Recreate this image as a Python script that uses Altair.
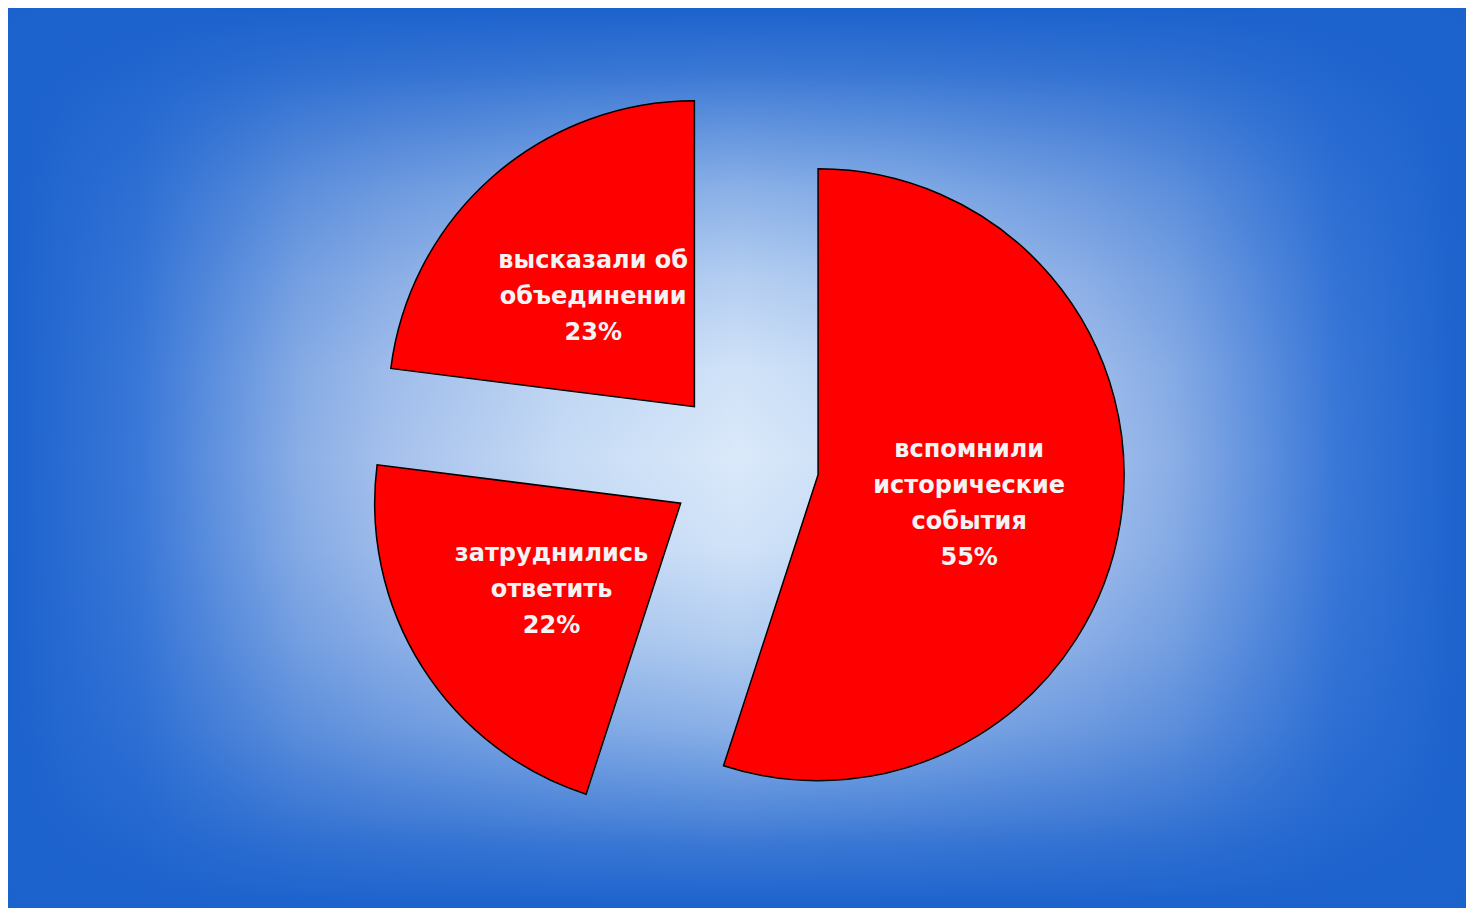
import altair as alt
import pandas as pd

# ---- data ----
categories = ["вспомнили\nисторические\nсобытия", "затруднились\nответить", "высказали об\nобъединении"]
shares = [55, 22, 23]
order = [0, 1, 2]

# ---- layout ----
W, H = 1458, 900
CX, CY = 736, 455   # pie centre (px)
R = 306             # pie radius
D = 75              # explode distance
LH = 36             # label line height

df = pd.DataFrame({"category": categories, "share": shares, "order": order})

base = (
    alt.Chart(df)
    .transform_joinaggregate(total="sum(share)")
    .transform_window(cum="sum(share)", sort=[alt.SortField("order")], frame=[None, 0])
    .transform_calculate(t0="2*PI*(datum.cum - datum.share)/datum.total")
    .transform_calculate(t1="2*PI*datum.cum/datum.total")
    .transform_calculate(mid="(datum.t0 + datum.t1)/2")
    .transform_calculate(
        px=f"{CX} + {D}*sin(datum.mid)",
        py=f"{CY} - {D}*cos(datum.mid)",
        label="datum.category + '\\n' + datum.share + '%'",
    )
    .transform_calculate(nlines="length(split(datum.label, '\\n'))")
    .transform_calculate(
        lx=f"{CX} + {D + 0.5 * R}*sin(datum.mid)",
        ly=f"{CY} - {D + 0.5 * R}*cos(datum.mid) - (datum.nlines - 1)*{LH / 2} + 5",
    )
)

arcs = base.mark_arc(radius=R, stroke="black", strokeWidth=1.5, fill="#ff0000").encode(
    x=alt.X("px:Q", scale=None, axis=None),
    y=alt.Y("py:Q", scale=None, axis=None),
    theta=alt.Theta("t0:Q", scale=None, stack=None),
    theta2="t1:Q",
)

text = base.mark_text(
    font="DejaVu Sans", fontWeight="bold", fontSize=24, color="#f4f4f4",
    lineBreak="\n", lineHeight=LH, align="center", baseline="middle",
).encode(
    x=alt.X("lx:Q", scale=None, axis=None),
    y=alt.Y("ly:Q", scale=None, axis=None),
    text="label:N",
)

dummy = pd.DataFrame({"a": [0]})
h_grad = alt.Gradient(
    gradient="linear", x1=0, x2=1, y1=0, y2=0,
    stops=[
        alt.GradientStop(color="#1c62cd", offset=0),
        alt.GradientStop(color="#3a78d8", offset=0.09),
        alt.GradientStop(color="#8aaee6", offset=0.2),
        alt.GradientStop(color="#a5c0ec", offset=0.26),
        alt.GradientStop(color="#c6dbf5", offset=0.38),
        alt.GradientStop(color="#dae9fa", offset=0.5),
        alt.GradientStop(color="#c6dbf5", offset=0.62),
        alt.GradientStop(color="#a5c0ec", offset=0.74),
        alt.GradientStop(color="#8aaee6", offset=0.8),
        alt.GradientStop(color="#3a78d8", offset=0.91),
        alt.GradientStop(color="#1c62cd", offset=1),
    ],
)
v_grad = alt.Gradient(
    gradient="linear", x1=0, x2=0, y1=0, y2=1,
    stops=[
        alt.GradientStop(color="rgba(28,98,205,1)", offset=0),
        alt.GradientStop(color="rgba(28,98,205,0.84)", offset=0.07),
        alt.GradientStop(color="rgba(28,98,205,0.7)", offset=0.11),
        alt.GradientStop(color="rgba(28,98,205,0.42)", offset=0.2),
        alt.GradientStop(color="rgba(28,98,205,0.2)", offset=0.3),
        alt.GradientStop(color="rgba(28,98,205,0.05)", offset=0.4),
        alt.GradientStop(color="rgba(28,98,205,0)", offset=0.5),
        alt.GradientStop(color="rgba(28,98,205,0.05)", offset=0.6),
        alt.GradientStop(color="rgba(28,98,205,0.2)", offset=0.7),
        alt.GradientStop(color="rgba(28,98,205,0.42)", offset=0.8),
        alt.GradientStop(color="rgba(28,98,205,0.7)", offset=0.89),
        alt.GradientStop(color="rgba(28,98,205,0.84)", offset=0.93),
        alt.GradientStop(color="rgba(28,98,205,1)", offset=1),
    ],
)
bg_h = alt.Chart(dummy).mark_rect(color=h_grad).encode(
    x=alt.value(0), x2=alt.value("width"), y=alt.value(0), y2=alt.value("height")
)
bg_v = alt.Chart(dummy).mark_rect(color=v_grad).encode(
    x=alt.value(0), x2=alt.value("width"), y=alt.value(0), y2=alt.value("height")
)

chart = (
    alt.layer(bg_h, bg_v, arcs, text)
    .properties(
        width=W, height=H, padding=0,
        autosize=alt.AutoSizeParams(type="fit", contains="padding"),
    )
    .configure_view(stroke=None)
)

chart.save("out.html", embed_options={"renderer": "svg", "actions": False})
